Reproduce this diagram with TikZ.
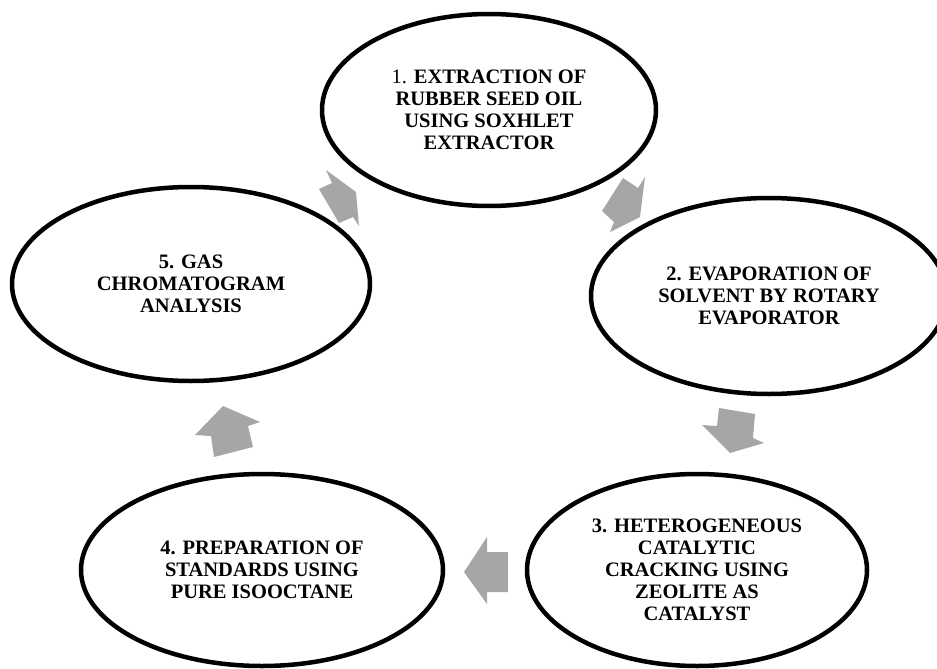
\documentclass[tikz,border=0pt]{standalone}
\usepackage{fontspec}
\setmainfont{Liberation Serif}
\usetikzlibrary{shapes.geometric}

\definecolor{arrowgray}{RGB}{166,166,166}

\tikzset{
  stage/.style={draw=black, line width=4.5pt, ellipse, inner sep=0pt,
    align=center, font=\fontsize{20.5}{22}\selectfont\bfseries},
  cyclearrow/.style={fill=arrowgray, draw=none}
}

\begin{document}
\begin{tikzpicture}[x=1pt, y=-1pt]
        % Page frame
        \useasboundingbox (0,0) rectangle (937,669);
        \clip (0,0) rectangle (937,669);

        % Process stages
        \node[stage, minimum width=334pt, minimum height=192pt] (extract) at (489,110)
            {\mdseries 1. \bfseries EXTRACTION OF\\RUBBER SEED OIL\\USING SOXHLET\\EXTRACTOR};
        \node[stage, minimum width=356pt, minimum height=196pt] (evap) at (769,296)
            {2. EVAPORATION OF\\SOLVENT BY ROTARY\\EVAPORATOR};
        \node[stage, minimum width=340pt, minimum height=192pt] (crack) at (697,570)
            {3. HETEROGENEOUS\\CATALYTIC\\CRACKING USING\\ZEOLITE AS\\CATALYST};
        \node[stage, minimum width=362pt, minimum height=192pt] (prep) at (262,570)
            {4. PREPARATION OF\\STANDARDS USING\\PURE ISOOCTANE};
        \node[stage, minimum width=358pt, minimum height=194pt] (gc) at (191,284)
            {5. GAS\\CHROMATOGRAM\\ANALYSIS};

        % Cycle arrows
        \fill[cyclearrow] (623,178) -- (638,188) -- (645,177) -- (640,217)
            -- (610,232) -- (614,222) -- (602,211) -- cycle;
        \fill[cyclearrow] (719,408) -- (755,414) -- (753,438) -- (764,443)
            -- (730,453) -- (702,425) -- (717,426) -- cycle;
        \fill[cyclearrow] (464,572) -- (487,537) -- (487,552) -- (508,552)
            -- (508,592) -- (487,592) -- (487,604) -- cycle;
        \fill[cyclearrow] (223,406) -- (260,422) -- (248,426) -- (253,447)
            -- (214,457) -- (211,436) -- (195,435) -- cycle;
        \fill[cyclearrow] (326,170) -- (356,192) -- (359,226) -- (353,217)
            -- (339,223) -- (319,189) -- (332,183) -- cycle;
    \end{tikzpicture}
\end{document}
